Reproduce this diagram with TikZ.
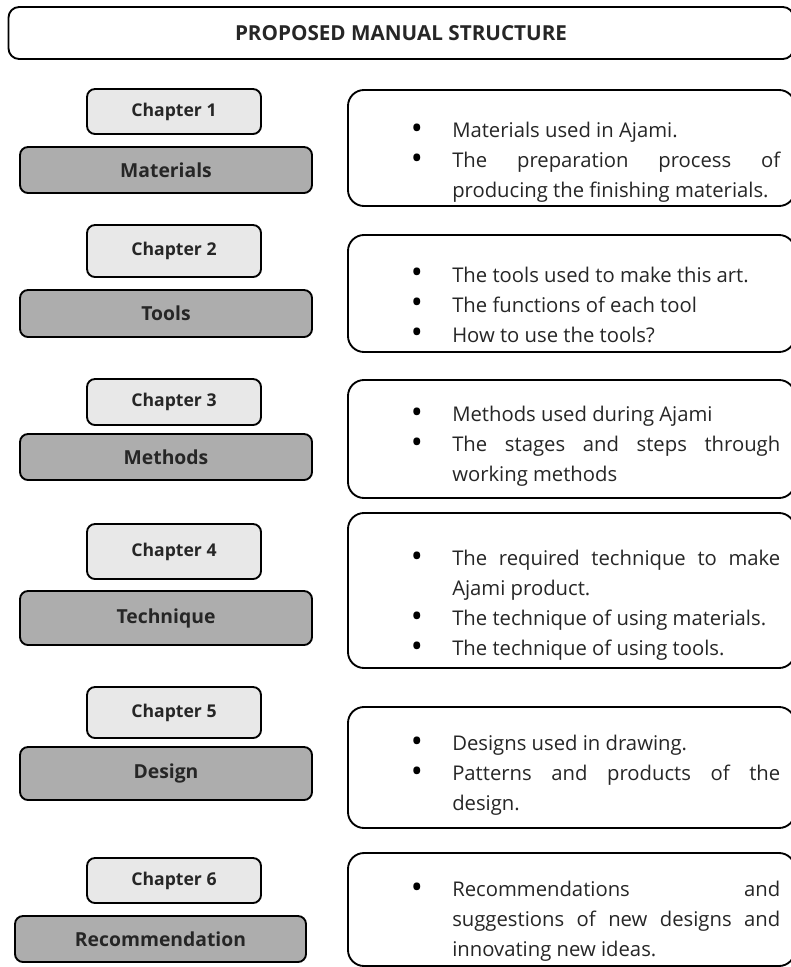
\documentclass[tikz,border=0pt]{standalone}
\usepackage{fontspec}
\setmainfont{Open Sans}
\usetikzlibrary{positioning}

\definecolor{chaplight}{HTML}{E8E8E8}
\definecolor{chapdark}{HTML}{ADADAD}
\definecolor{inkgray}{HTML}{262626}

\hyphenpenalty=10000
\tolerance=9999

% bullet item inside the description boxes
\newcommand{\itm}{\par\noindent\llap{\raisebox{-1.2pt}{\color{black}\fontsize{24}{0}\selectfont\textbullet}\hspace{22pt}}}

\begin{document}
\begin{tikzpicture}[
    x=0.75pt, y=-0.75pt,
    font=\fontsize{15.2}{22.5}\selectfont,
    box/.style={draw, line width=1.4pt, text=inkgray, align=center, inner sep=0pt},
    titlebox/.style={box, rounded corners=8pt, fill=white, minimum width=588.75pt,
                     minimum height=39pt, font=\fontsize{15.5}{17}\selectfont\bfseries},
    chap/.style={box, rounded corners=6pt, fill=chaplight, minimum width=130.5pt,
                 font=\fontsize{13.2}{15}\selectfont\bfseries},
    part/.style={box, rounded corners=6pt, fill=chapdark, minimum width=219pt,
                 font=\fontsize{14.5}{16}\selectfont\bfseries},
    descbox/.style={box, rounded corners=12pt, fill=white, minimum width=335.25pt},
    desc/.style={anchor=west, inner sep=0pt, text width=246pt, align=justify,
                 text=inkgray}
  ]

  \useasboundingbox (0,0) rectangle (791,967);

  % ---- heading ----
  \node[titlebox] (title) at (401,33) {PROPOSED MANUAL STRUCTURE};

  % ---- chapter 1 ----
  \node[chap, minimum height=33.75pt] (c1) at (174,111.5) {Chapter 1};
  \node[part, minimum height=34.5pt] (p1) at (166,170) {Materials};
  \node[descbox, minimum height=87pt] (b1) at (571.5,148) {};
  \node[desc] (d1) at (452,155)
    {\itm Materials used in Ajami.
     \itm The preparation process of\linebreak producing the finishing materials.};

  % ---- chapter 2 ----
  \node[chap, minimum height=39pt] (c2) at (174,251) {Chapter 2};
  \node[part, minimum height=35.25pt] (p2) at (166,313.5) {Tools};
  \node[descbox, minimum height=87.75pt] (b2) at (571.5,293.5) {};
  \node[desc] (d2) at (452,298)
    {\itm The tools used to make this art.
     \itm The functions of each tool
     \itm How to use the tools?};

  % ---- chapter 3 ----
  \node[chap, minimum height=34.5pt] (c3) at (174,402) {Chapter 3};
  \node[part, minimum height=34.5pt] (p3) at (166,457) {Methods};
  \node[descbox, minimum height=88.5pt] (b3) at (571.5,439) {};
  \node[desc] (d3) at (452,439)
    {\itm Methods used during Ajami
     \itm The stages and steps through\linebreak working methods};

  % ---- chapter 4 ----
  \node[chap, minimum height=41.25pt] (c4) at (174,551.5) {Chapter 4};
  \node[part, minimum height=40.5pt] (p4) at (166,618) {Technique};
  \node[descbox, minimum height=116.25pt] (b4) at (571.5,590.5) {};
  \node[desc] (d4) at (452,598)
    {\itm The required technique to make\linebreak Ajami product.
     \itm The technique of using materials.
     \itm The technique of using tools.};

  % ---- chapter 5 ----
  \node[chap, minimum height=38.25pt] (c5) at (174,712.5) {Chapter 5};
  \node[part, minimum height=39.75pt] (p5) at (166,773.5) {Design};
  \node[descbox, minimum height=90.75pt] (b5) at (571.5,767.5) {};
  \node[desc] (d5) at (452,768)
    {\itm Designs used in drawing.
     \itm Patterns and products of the\linebreak design.};

  % ---- chapter 6 ----
  \node[chap, minimum height=33.75pt] (c6) at (174,880.5) {Chapter 6};
  \node[part, minimum height=34.5pt, minimum width=218.25pt] (p6) at (160.5,939)
    {Recommendation};
  \node[descbox, minimum height=84.75pt] (b6) at (571.5,909.5) {};
  \node[desc] (d6) at (452,914)
    {\itm Recommendations and\linebreak suggestions of new designs and\linebreak
     innovating new ideas.};

\end{tikzpicture}
\end{document}
